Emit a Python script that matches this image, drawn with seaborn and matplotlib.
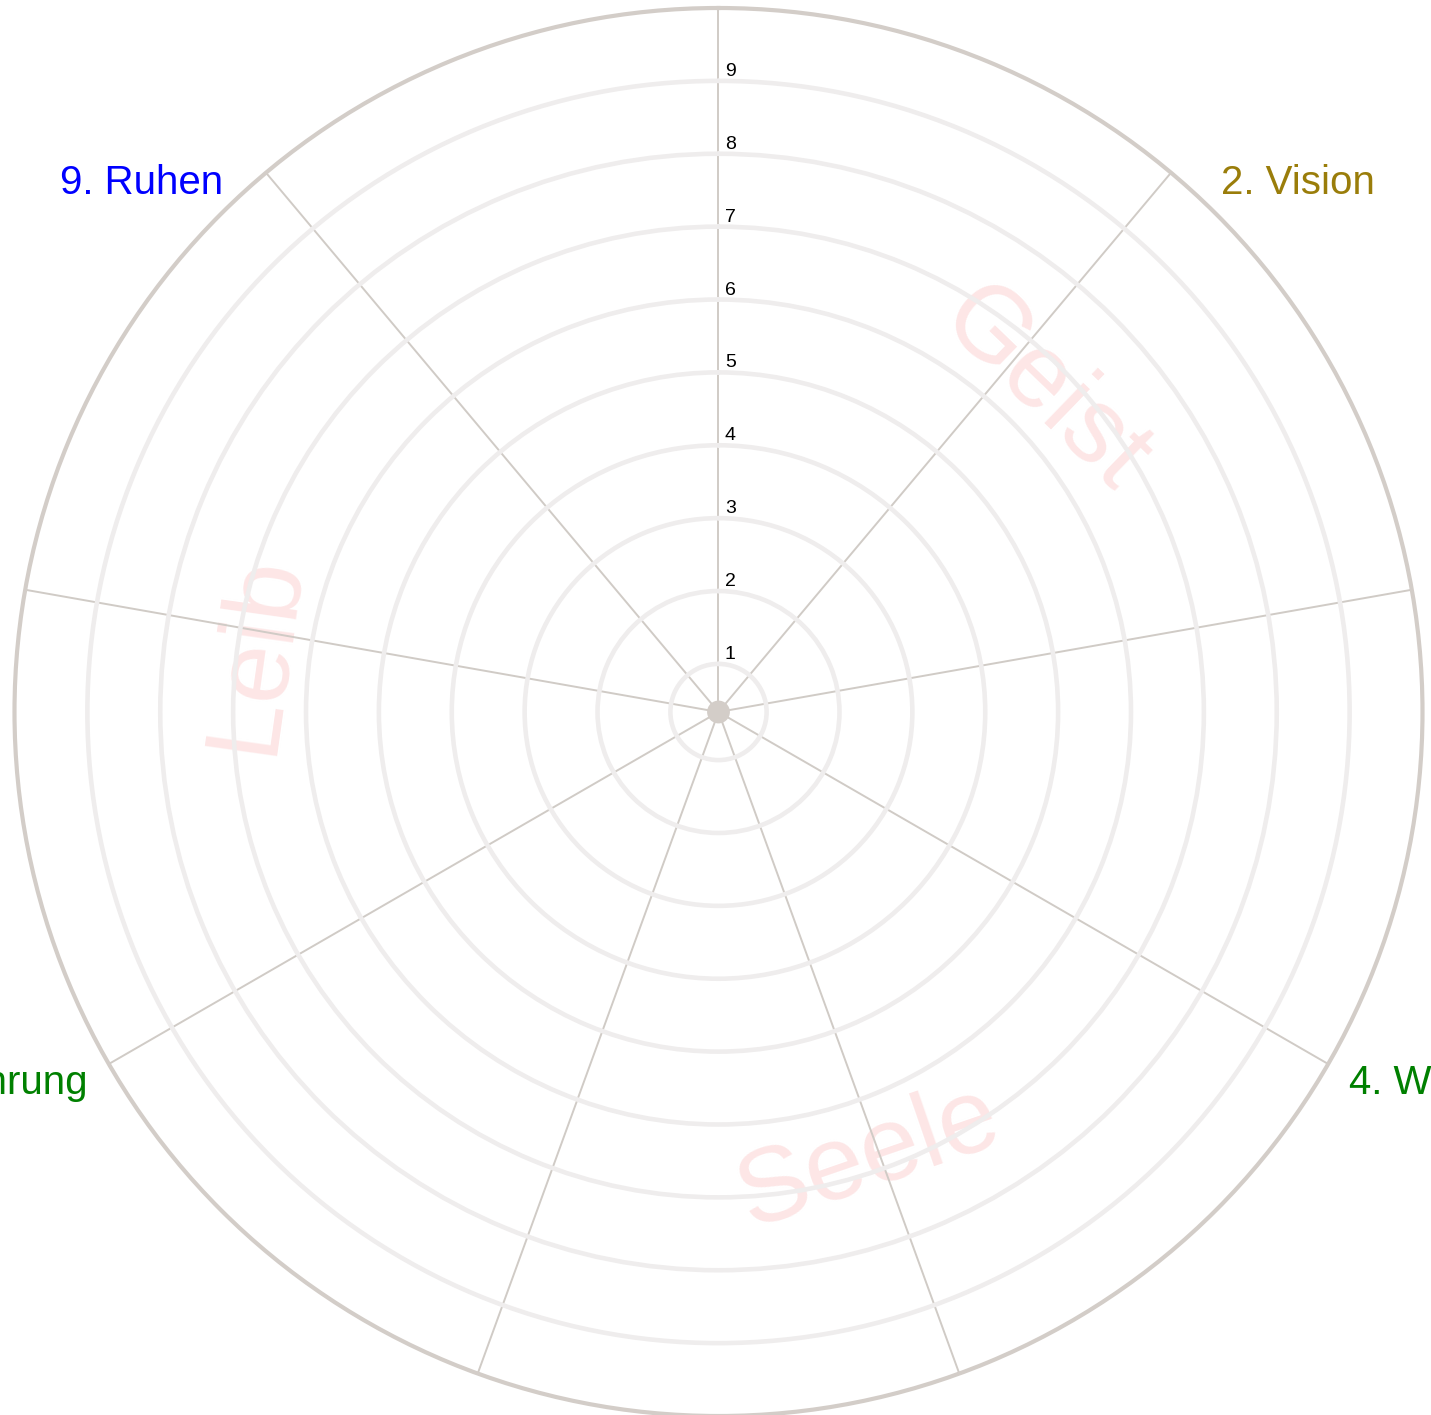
import numpy as np
import matplotlib
matplotlib.use("Agg")
import matplotlib.pyplot as plt
import seaborn as sns

# categories of the wheel (clockwise from the top)
categories = ["1. Sinn", "2. Vision", "3. Ziele", "4. Wünsche", "5. Gefühle",
              "6. Beziehungen", "7. Ernährung", "8. Bewegung", "9. Ruhen"]
label_colors = ["#9a7d0a", "#9a7d0a", "#9a7d0a", "#008000", "#008000",
                "#008000", "#008000", "#0000ff", "#0000ff"]
r_ticks = [1, 2, 3, 4, 5, 6, 7, 8, 9]
r_tick_labels = ["1", "2", "3", "4", "5", "6", "7", "8", "9"]
r_min, r_max = 0.34, 10

# background words for the three areas
areas = ["Geist", "Seele", "Leib"]

sns.set_theme(style="white")
plt.rcParams["font.family"] = ["Liberation Sans", "DejaVu Sans"]

fig = plt.figure(figsize=(14.31, 14.15), dpi=100)
ax = fig.add_axes([14.5 / 1431, -1 / 1415, 1408 / 1431, 1408 / 1415], projection="polar")
ax.set_theta_zero_location("N")
ax.set_theta_direction(-1)

theta = np.deg2rad(np.arange(len(categories)) * 360 / len(categories))
ax.set_xticks(theta)
ax.set_xticklabels([])
ax.set_yticks(r_ticks)
ax.set_yticklabels([])
ax.set_ylim(r_min, r_max)
ax.grid(axis="x", color="#d0cbc6", lw=1.4)
ax.grid(axis="y", color="#efeded", lw=3.3)
ax.spines["polar"].set_color("#d3cdc8")
ax.spines["polar"].set_linewidth(3)
ax.tick_params(length=0)

# centre dot
sns.scatterplot(x=[0], y=[r_min], ax=ax, s=270, color="#d3cdc8",
                edgecolor="none", clip_on=False, zorder=4, legend=False)

# radial tick labels
for r, lab in zip(r_ticks, r_tick_labels):
    ax.annotate(lab, xy=(0, r), xytext=(6.5, 5), textcoords="offset pixels",
                ha="left", va="baseline", fontsize=14, color="black")

# category labels outside the circle (cut by the figure edge like the original)
for t, lab, col in zip(theta, categories, label_colors):
    s, c = np.sin(t), np.cos(t)
    if abs(s) < 0.35:
        ha = "center" if abs(s) < 0.05 else ("left" if s > 0 else "right")
        va = "bottom" if c > 0 else "top"
        off = (0, 25 if c > 0 else -50)
    else:
        ha = "left" if s > 0 else "right"
        va = "center"
        if c < -0.3:
            off = (21 if s > 0 else -21, -19)
        else:
            off = (50 if s > 0 else -43, -10)
    ax.annotate(lab, xy=(t, r_max), xytext=off, textcoords="offset pixels",
                ha=ha, va=va, fontsize=29, color=col, annotation_clip=False)

# faint area words
area_pos = [(45.3, 6.62, -44), (161.4, 6.8, 19), (277.2, 6.73, 82)]
for word, (deg, r, rot) in zip(areas, area_pos):
    ax.text(np.deg2rad(deg), r, word, ha="center", va="center", rotation=rot,
            rotation_mode="anchor", fontsize=76, color="#fde6e6", zorder=0.1)

fig.savefig("out.png", dpi=100)
